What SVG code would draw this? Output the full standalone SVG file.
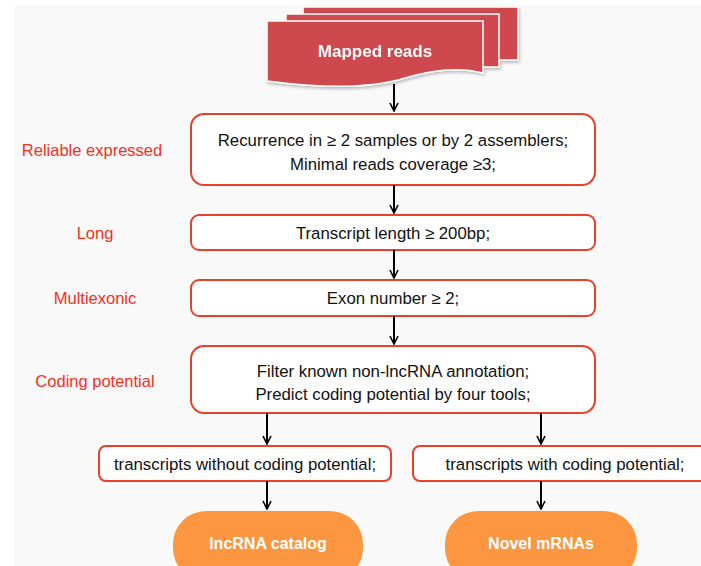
<svg xmlns="http://www.w3.org/2000/svg" width="701" height="566" viewBox="0 0 701 566">
  <defs>
    <marker id="arrow" viewBox="0 0 10 10" refX="9" refY="5" markerWidth="10" markerHeight="10" markerUnits="userSpaceOnUse" orient="auto">
      <path d="M1,1 L9,5 L1,9" fill="none" stroke="#000" stroke-width="1.6"/>
    </marker>
    <filter id="shadow" x="-10%" y="-10%" width="120%" height="130%">
      <feDropShadow dx="1" dy="2" stdDeviation="1.5" flood-color="#000" flood-opacity="0.25"/>
    </filter>
  </defs>
  <style>
    .step { fill: #ffffff; stroke: #e8402a; stroke-width: 2; }
    .txt { font-family: "Liberation Sans", Arial, sans-serif; font-size: 16.8px; fill: #111; text-anchor: middle; }
    .lbl { font-family: "Liberation Sans", Arial, sans-serif; font-size: 16.5px; fill: #f5301e; text-anchor: middle; }
    .doc { fill: #cd4a4d; stroke: #ffffff; stroke-width: 1.5; }
    .pill { fill: #fc9640; }
    .wtxt { font-family: "Liberation Sans", Arial, sans-serif; font-size: 16px; font-weight: bold; fill: #ffffff; text-anchor: middle; }
    .conn { stroke: #000; stroke-width: 2; fill: none; }
  </style>

  <!-- page background -->
  <rect width="701" height="566" fill="#ffffff"/>
  <rect x="14" y="5" width="687" height="561" fill="#f9f9f9"/>

  <!-- side labels -->
  <g id="labels">
    <text class="lbl" x="92" y="156">Reliable expressed</text>
    <text class="lbl" x="95" y="239">Long</text>
    <text class="lbl" x="95" y="304">Multiexonic</text>
    <text class="lbl" x="95" y="387">Coding potential</text>
  </g>

  <!-- stacked documents -->
  <g id="mapped-reads" filter="url(#shadow)">
    <rect class="doc" x="303" y="7" width="215" height="53"/>
    <rect class="doc" x="286" y="14" width="213" height="53"/>
    <path class="doc" d="M267,21 H483 V73 C460,67 435,69 405,78 C370,89 320,88 267,81 Z"/>
    <text class="wtxt" x="375" y="57" style="font-size:17px">Mapped reads</text>
  </g>

  <g id="reliable">
    <rect class="step" x="191" y="114" width="404" height="71" rx="13"/>
    <text class="txt" x="393" y="146">Recurrence in ≥ 2 samples or by 2 assemblers;</text>
    <text class="txt" x="393" y="170">Minimal reads coverage ≥3;</text>
  </g>

  <g id="long">
    <rect class="step" x="191" y="215" width="404" height="35" rx="8"/>
    <text class="txt" x="393" y="239">Transcript length ≥ 200bp;</text>
  </g>

  <g id="multiexonic">
    <rect class="step" x="191" y="280" width="404" height="36" rx="8"/>
    <text class="txt" x="393" y="304">Exon number ≥ 2;</text>
  </g>

  <g id="coding">
    <rect class="step" x="191" y="346" width="404" height="67" rx="13"/>
    <text class="txt" x="393" y="377">Filter known non-lncRNA annotation;</text>
    <text class="txt" x="393" y="400">Predict coding potential by four tools;</text>
  </g>

  <g id="noncoding">
    <rect class="step" x="99" y="446" width="292" height="35" rx="7"/>
    <text class="txt" x="245" y="470">transcripts without coding potential;</text>
  </g>

  <g id="withcoding">
    <rect class="step" x="413" y="446" width="294" height="35" rx="7"/>
    <text class="txt" x="565" y="470">transcripts with coding potential;</text>
  </g>

  <g id="lncrna-catalog">
    <rect class="pill" x="173" y="511" width="190" height="70" rx="33"/>
    <text class="wtxt" x="268" y="549">lncRNA catalog</text>
  </g>

  <g id="novel-mrnas">
    <rect class="pill" x="445" y="511" width="192" height="70" rx="33"/>
    <text class="wtxt" x="541" y="549">Novel mRNAs</text>
  </g>

  <!-- connectors -->
  <g id="connectors">
    <line class="conn" x1="394" y1="84" x2="394" y2="111" marker-end="url(#arrow)"/>
    <line class="conn" x1="394" y1="185" x2="394" y2="213" marker-end="url(#arrow)"/>
    <line class="conn" x1="394" y1="250" x2="394" y2="278" marker-end="url(#arrow)"/>
    <line class="conn" x1="394" y1="316" x2="394" y2="344" marker-end="url(#arrow)"/>
    <line class="conn" x1="267" y1="413" x2="267" y2="444" marker-end="url(#arrow)"/>
    <line class="conn" x1="541" y1="413" x2="541" y2="444" marker-end="url(#arrow)"/>
    <line class="conn" x1="267" y1="481" x2="267" y2="509" marker-end="url(#arrow)"/>
    <line class="conn" x1="541" y1="481" x2="541" y2="509" marker-end="url(#arrow)"/>
  </g>
</svg>
